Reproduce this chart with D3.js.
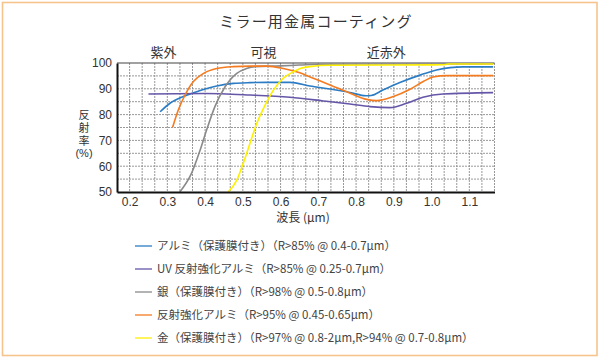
<!DOCTYPE html>
<html><head><meta charset="utf-8">
<script src="https://cdn.jsdelivr.net/npm/d3@7"></script>
<style>
body{margin:0;background:#fff;}
svg{display:block;font-family:"Noto Sans CJK JP","Noto Sans",sans-serif;}
</style></head>
<body><svg id="c" width="600" height="359"></svg>
<script>
const title = "ミラー用金属コーティング";
const xTicks = [0.2,0.3,0.4,0.5,0.6,0.7,0.8,0.9,1.0,1.1];
const yTicks = [50,60,70,80,90,100];
const regions = [{t:"紫外",x:0.29},{t:"可視",x:0.555},{t:"近赤外",x:0.88}];

const alX = [0.281,0.307,0.342,0.387,0.431,0.475,0.519,0.563,0.625,0.678,0.731,0.784,0.826,0.84,0.871,0.916,0.969,1.013,1.049,1.083,1.163];
const alY = [81.1,84.4,87.0,89.3,91.1,92.1,92.4,92.5,92.5,91.1,89.9,88.6,87.3,87.4,89.5,92.4,95.3,97.3,98.2,98.5,98.5];

const uvX = [0.25,0.4,0.519,0.625,0.713,0.784,0.837,0.89,0.934,0.977,1.03,1.163];
const uvY = [88.0,88.2,87.6,86.7,85.3,84.1,83.1,82.7,84.4,86.7,88.0,88.5];

const agX = [0.333,0.364,0.387,0.404,0.426,0.453,0.484,0.51,0.532,0.6,0.65,0.7,0.8,1.0,1.163];
const agY = [50.0,57.2,66.3,74.0,83.1,90.8,96.0,97.9,98.6,98.9,99.2,99.5,99.6,99.6,99.6];

const eaX = [0.314,0.329,0.347,0.369,0.396,0.431,0.475,0.519,0.563,0.607,0.651,0.678,0.731,0.784,0.828,0.855,0.899,0.943,0.978,1.004,1.04,1.163];
const eaY = [75.1,81.8,87.6,92.8,96.0,97.9,98.6,98.8,98.8,97.9,96.2,94.6,91.5,88.3,85.9,85.4,87.0,89.8,92.8,94.6,95.1,95.1];

const auX = [0.461,0.484,0.501,0.519,0.537,0.559,0.581,0.607,0.634,0.652,0.678,0.731,0.89,1.03,1.045,1.163];
const auY = [50.0,54.6,61.1,68.9,76.6,83.7,89.5,94.1,96.6,97.9,98.6,99.1,99.2,99.3,99.6,99.6];

const seriesNames = [
  "アルミ（保護膜付き）（R>85% @ 0.4-0.7μm）",
  "UV 反射強化アルミ（R>85% @ 0.25-0.7μm）",
  "銀（保護膜付き）（R>98% @ 0.5-0.8μm）",
  "反射強化アルミ（R>95% @ 0.45-0.65μm）",
  "金（保護膜付き）（R>97% @ 0.8-2μm,R>94% @ 0.7-0.8μm）"
];
const seriesColors = ["#2b7cc4","#6656a8","#8a8a8a","#f47b20","#fff000"];
const seriesData = [[alX,alY],[uvX,uvY],[agX,agY],[eaX,eaY],[auX,auY]];

const svg = d3.select("#c");
svg.append("rect").attr("x",2.5).attr("y",2.5).attr("width",594.5).attr("height",353)
  .attr("fill","#fff").attr("stroke","#f5c48c").attr("stroke-width",1.6);

const L=117, R=494.5, T=63, B=192;
const x = d3.scaleLinear().domain([0.2-1/30, 1.1+2/30]).range([L,R]);
const y = d3.scaleLinear().domain([50,100]).range([B,T]);

svg.append("text").attr("x",316).attr("y",27).attr("text-anchor","middle")
  .attr("font-size",15).attr("fill","#333").attr("letter-spacing","1.2").text(title);

// grid
const g = svg.append("g");
const xGrid = d3.range(1,31).map(i=>x.domain()[0]+i/30);
g.selectAll("line.vg").data(xGrid).join("line").attr("class","vg")
  .attr("x1",d=>x(d)).attr("x2",d=>x(d)).attr("y1",T).attr("y2",B)
  .attr("stroke","#8c8c8c").attr("stroke-width",0.9).attr("stroke-dasharray","2,1");
const yGrid = d3.range(55,100,5);
g.selectAll("line.hg").data(yGrid).join("line").attr("class","hg")
  .attr("x1",L).attr("x2",R).attr("y1",d=>y(d)).attr("y2",d=>y(d))
  .attr("stroke","#8c8c8c").attr("stroke-width",0.9).attr("stroke-dasharray","2,1");
svg.append("line").attr("x1",L).attr("x2",R).attr("y1",T).attr("y2",T).attr("stroke","#444").attr("stroke-width",1.2);

// curves
const line = d3.line().curve(d3.curveMonotoneX);
seriesData.forEach((s,i)=>{
  const pts = s[0].map((v,j)=>[x(v), y(s[1][j])]);
  svg.append("path").attr("d",line(pts)).attr("fill","none")
    .attr("stroke",seriesColors[i]).attr("stroke-width",1.6);
});

// axes
const xAxis = d3.axisBottom(x).tickValues(xTicks).tickSize(0).tickPadding(5).tickFormat(d3.format(".1f"));
const xg = svg.append("g").attr("transform",`translate(0,${B})`).call(xAxis);
xg.select(".domain").attr("stroke","#111").attr("stroke-width",2);
xg.selectAll("text").attr("font-size",12).attr("fill","#333").attr("font-family","Liberation Sans, Arial, sans-serif");
const yAxis = d3.axisLeft(y).tickValues(yTicks).tickSize(0).tickPadding(5);
const yg = svg.append("g").attr("transform",`translate(${L},0)`).call(yAxis);
yg.select(".domain").attr("stroke","#111").attr("stroke-width",2);
yg.selectAll("text").attr("font-size",12).attr("fill","#333").attr("font-family","Liberation Sans, Arial, sans-serif");

// region labels
svg.selectAll("text.reg").data(regions).join("text").attr("class","reg")
  .attr("x",d=>x(d.x)).attr("y",57).attr("text-anchor","middle")
  .attr("font-size",13).attr("fill","#333").text(d=>d.t);

// y label (stacked)
const yl = ["反","射","率","(%)"];
svg.selectAll("text.yl").data(yl).join("text").attr("class","yl")
  .attr("x",84).attr("y",(d,i)=>119+i*12.8).attr("text-anchor","middle")
  .attr("font-family","'Liberation Sans','Noto Sans CJK JP',sans-serif")
  .attr("font-size",11).attr("fill","#333").text(d=>d);

// x label
svg.append("text").attr("x",303).attr("y",222).attr("text-anchor","middle")
  .attr("font-size",12).attr("fill","#333").text("波長 (μm)");

// legend
const lg = svg.append("g");
seriesNames.forEach((n,i)=>{
  const yy = 246 + i*23;
  lg.append("line").attr("x1",135).attr("x2",152).attr("y1",yy).attr("y2",yy)
    .attr("stroke",seriesColors[i]).attr("stroke-width",1.3);
  lg.append("text").attr("x",157).attr("y",yy+4).attr("font-size",11.5).attr("fill","#444").text(n);
});
</script></body></html>
